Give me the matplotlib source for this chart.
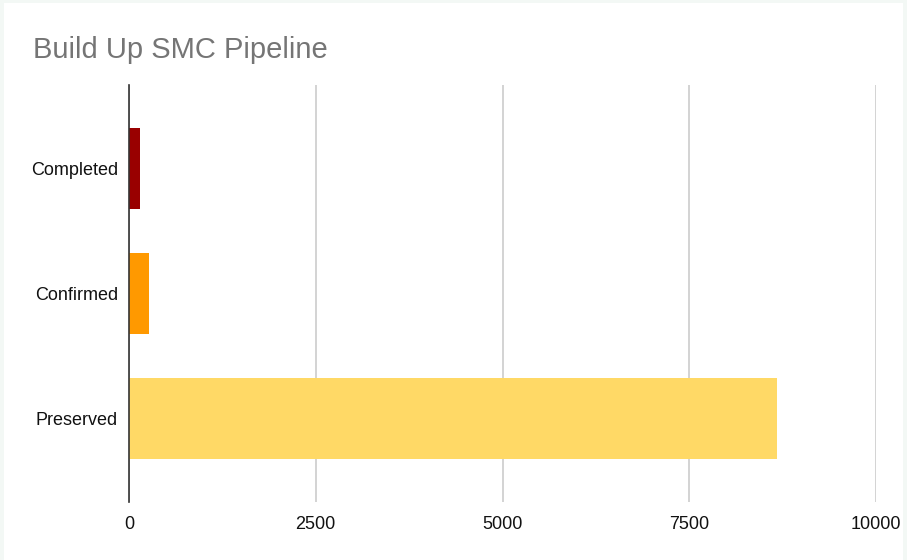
import matplotlib.pyplot as plt
from matplotlib.patches import Rectangle

# данные
stages = ['Completed', 'Confirmed', 'Preserved']
counts = [147, 270, 8670]
colors = ['#990000', '#ff9900', '#ffd966']
ticks = [0, 2500, 5000, 7500, 10000]

W, H = 907, 560
fig = plt.figure(figsize=(W / 100, H / 100), dpi=100)
fig.patch.set_facecolor('#f3f8f5')
# белая карточка внутри светлой рамки
fig.patches.append(Rectangle((4 / W, 0), (W - 8) / W, (H - 3) / H,
                             transform=fig.transFigure, facecolor='white',
                             edgecolor='none', zorder=-10))

ax = fig.add_axes([129 / W, (H - 502) / H, (876 - 129) / W, (502 - 85) / H])
ax.set_facecolor('white')

y = range(len(stages))
ax.barh(y, counts, height=0.65, color=colors, zorder=3)

ax.set_xlim(0, 10000)
ax.set_ylim(2.668, -0.668)
ax.set_xticks(ticks)
ax.set_xticklabels([str(t) for t in ticks])
ax.set_yticks(list(y))
ax.set_yticklabels(stages)

ax.grid(axis='x', color='#cccccc', linewidth=1.2, zorder=0)
ax.set_axisbelow(True)
for s in ['top', 'right', 'bottom']:
    ax.spines[s].set_visible(False)
ax.spines['left'].set_color('#333333')
ax.spines['left'].set_linewidth(1.2)
ax.spines['left'].set_zorder(4)
ax.tick_params(length=0, labelsize=13, labelcolor='#111111', pad=8)
for lab in ax.get_xticklabels() + ax.get_yticklabels():
    lab.set_fontfamily('Liberation Sans')
ax.tick_params(axis='x', pad=10)

fig.text(33 / W, 1 - 58 / H, 'Build Up SMC Pipeline', fontsize=21,
         color='#757575', fontfamily='Liberation Sans', va='baseline')

plt.savefig('out.png', dpi=100, facecolor=fig.get_facecolor())
